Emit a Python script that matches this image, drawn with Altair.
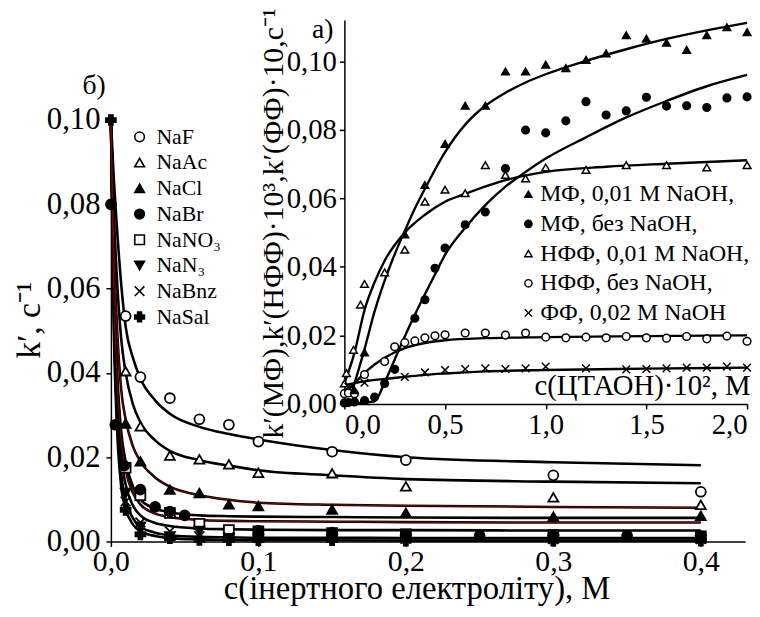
import altair as alt
import pandas as pd

FONT = "Liberation Serif"
CROSS = "M-1,-1L1,1M1,-1L-1,1"

# ---------------- panel б) : main plot ----------------
salts = ["NaF", "NaAc", "NaCl", "NaBr", "NaNO₃", "NaN₃", "NaBnz", "NaSal"]
salt_shapes = ["circle", "triangle-up", "triangle-up", "circle", "square", "triangle-down", CROSS, "cross"]
salt_fills = ["white", "white", "black", "black", "white", "black", "black", "black"]

naf_x = [0.01, 0.02, 0.04, 0.06, 0.08, 0.1, 0.15, 0.2, 0.3, 0.4]
naf_y = [0.0535, 0.039, 0.034, 0.029, 0.0277, 0.0237, 0.0213, 0.0193, 0.0157, 0.0118]
naac_x = [0.01, 0.02, 0.04, 0.06, 0.08, 0.1, 0.15, 0.2, 0.3, 0.4]
naac_y = [0.0404, 0.0273, 0.0204, 0.0195, 0.0183, 0.0163, 0.0162, 0.0131, 0.0105, 0.0087]
nacl_x = [0.01, 0.02, 0.04, 0.06, 0.08, 0.1, 0.15, 0.2, 0.3, 0.4]
nacl_y = [0.028, 0.019, 0.0123, 0.0115, 0.0088, 0.0084, 0.0076, 0.0068, 0.0059, 0.0061]
nabr_x = [0.0, 0.003, 0.009, 0.02, 0.03, 0.04, 0.05, 0.1, 0.15, 0.2, 0.25, 0.3, 0.35, 0.4]
nabr_y = [0.080, 0.0277, 0.018, 0.0123, 0.0082, 0.0071, 0.0062, 0.0025, 0.0021, 0.0016, 0.0014, 0.0014, 0.0014, 0.0012]
nano3_x = [0.01, 0.02, 0.04, 0.06, 0.08, 0.1, 0.15, 0.2, 0.3, 0.4]
nano3_y = [0.0175, 0.011, 0.0068, 0.0042, 0.0027, 0.0024, 0.0020, 0.0017, 0.0015, 0.0012]
nan3_x = [0.01, 0.02, 0.04, 0.06, 0.08, 0.1, 0.15, 0.2, 0.3, 0.4]
nan3_y = [0.0115, 0.0035, 0.0012, 0.0025, 0.0008, 0.0006, 0.0005, 0.0004, 0.0004, 0.0004]
nabnz_x = [0.01, 0.02, 0.04, 0.06, 0.08, 0.1, 0.2, 0.3, 0.4]
nabnz_y = [0.0095, 0.0045, 0.0024, 0.0012, 0.0010, 0.0009, 0.0007, 0.0006, 0.0006]
nasal_x = [0.0, 0.01, 0.02, 0.04, 0.06, 0.08, 0.1, 0.15, 0.2, 0.3, 0.4]
nasal_y = [0.100, 0.0075, 0.0017, 0.0008, 0.0004, 0.0003, 0.0003, 0.0003, 0.0002, 0.0002, 0.0002]

curve_x = [0, 0.002, 0.004, 0.007, 0.01, 0.015, 0.02, 0.03, 0.04, 0.06, 0.08, 0.1, 0.15, 0.2, 0.3, 0.4]
curve_naf = [0.100, 0.086, 0.075, 0.061, 0.051, 0.0435, 0.0387, 0.0335, 0.0303, 0.0272, 0.0255, 0.0242, 0.0217, 0.0200, 0.0188, 0.0181]
curve_naac = [0.100, 0.078, 0.063, 0.048, 0.040, 0.0325, 0.0283, 0.0240, 0.0215, 0.0193, 0.0180, 0.0169, 0.0157, 0.0148, 0.0142, 0.0138]
curve_nacl = [0.100, 0.070, 0.052, 0.036, 0.029, 0.0225, 0.0190, 0.0152, 0.0130, 0.0110, 0.0099, 0.0092, 0.0087, 0.0085, 0.0082, 0.0080]
curve_4 = [0.100, 0.062, 0.042, 0.026, 0.019, 0.0130, 0.0100, 0.0078, 0.0069, 0.0062, 0.0060, 0.0059, 0.0058, 0.0057, 0.0056, 0.0056]
curve_5 = [0.100, 0.060, 0.040, 0.024, 0.017, 0.0115, 0.0088, 0.0066, 0.0058, 0.0051, 0.0049, 0.0048, 0.0047, 0.0046, 0.0045, 0.0045]
curve_6 = [0.100, 0.057, 0.036, 0.020, 0.0135, 0.0085, 0.0062, 0.0044, 0.0037, 0.0031, 0.0029, 0.0028, 0.0027, 0.0027, 0.0026, 0.0026]
curve_7 = [0.100, 0.053, 0.031, 0.016, 0.0100, 0.0055, 0.0035, 0.0021, 0.0015, 0.0011, 0.0010, 0.0009, 0.0009, 0.0008, 0.0008, 0.0008]
curve_8 = [0.100, 0.050, 0.028, 0.013, 0.0078, 0.0040, 0.0024, 0.0013, 0.0008, 0.0005, 0.0004, 0.0003, 0.0003, 0.0002, 0.0002, 0.0002]
red_curves = ["nacl", "c5"]

# ---------------- panel а) : inset ----------------
series = ["МФ, 0,01 М NaOH,", "МФ, без NaOH,", "НФФ, 0,01 М NaOH,", "НФФ, без NaOH,", "ФФ, 0,02 М NaOH"]
series_shapes = ["triangle-up", "circle", "triangle-up", "circle", CROSS]
series_fills = ["black", "black", "white", "white", "black"]

mf1_x = [0.05, 0.1, 0.3, 0.4, 0.5, 0.6, 0.7, 0.8, 0.9, 1.0, 1.1, 1.2, 1.3, 1.4, 1.5, 1.6, 1.7, 1.8, 1.9, 2.0]
mf1_y = [0.004, 0.015, 0.0495, 0.0639, 0.0759, 0.087, 0.087, 0.097, 0.097, 0.099, 0.098, 0.1004, 0.1023, 0.1076, 0.1066, 0.1054, 0.1033, 0.1076, 0.1099, 0.1085]
mf2_x = [0.0, 0.02, 0.05, 0.1, 0.15, 0.2, 0.25, 0.35, 0.4, 0.45, 0.5, 0.6, 0.7, 0.8, 0.9, 1.0, 1.1, 1.2, 1.3, 1.4, 1.5, 1.6, 1.7, 1.8, 1.9, 2.0]
mf2_y = [0.0003, 0.0004, 0.0006, 0.001, 0.002, 0.0060, 0.0101, 0.025, 0.0304, 0.0396, 0.0455, 0.0523, 0.056, 0.0687, 0.0799, 0.0791, 0.0826, 0.0882, 0.0843, 0.0855, 0.0895, 0.0869, 0.087, 0.0865, 0.0893, 0.0896]
nff1_x = [0.0, 0.01, 0.045, 0.08, 0.1, 0.2, 0.3, 0.4, 0.5, 0.6, 0.7, 0.8, 0.9, 1.0, 1.2, 1.4, 1.6, 1.8, 2.0]
nff1_y = [0.006, 0.009, 0.0158, 0.029, 0.035, 0.0384, 0.045, 0.059, 0.0625, 0.0615, 0.0697, 0.0668, 0.0658, 0.069, 0.0683, 0.0697, 0.0697, 0.069, 0.0697]
nff2_x = [0.0, 0.02, 0.05, 0.1, 0.2, 0.25, 0.3, 0.35, 0.4, 0.45, 0.5, 0.6, 0.7, 0.8, 0.9, 1.0, 1.1, 1.2, 1.3, 1.4, 1.5, 1.6, 1.7, 1.8, 1.9, 2.0]
nff2_y = [0.003, 0.0032, 0.003, 0.0086, 0.0124, 0.0167, 0.0179, 0.0184, 0.0193, 0.0199, 0.0202, 0.0207, 0.0207, 0.0201, 0.0207, 0.0195, 0.0193, 0.0195, 0.0193, 0.0197, 0.0193, 0.0192, 0.0197, 0.0190, 0.0198, 0.0183]
ff_x = [0.02, 0.1, 0.3, 0.4, 0.5, 0.6, 0.7, 0.8, 0.9, 1.0, 1.2, 1.4, 1.5, 1.6, 1.7, 1.8, 1.9, 2.0]
ff_y = [0.005, 0.0062, 0.0079, 0.0092, 0.0099, 0.0102, 0.0104, 0.0102, 0.0104, 0.0109, 0.0104, 0.0101, 0.0102, 0.0104, 0.0106, 0.0106, 0.0109, 0.0106]

fit_mf1_x = [0.04, 0.1, 0.15, 0.2, 0.25, 0.3, 0.35, 0.4, 0.5, 0.6, 0.7, 0.8, 0.9, 1.0, 1.2, 1.4, 1.6, 1.8, 2.0]
fit_mf1_y = [0.004, 0.016, 0.027, 0.036, 0.0437, 0.0505, 0.057, 0.0628, 0.0735, 0.0815, 0.0870, 0.0908, 0.0938, 0.0962, 0.1001, 0.1035, 0.1065, 0.109, 0.1112]
fit_mf2_x = [0.0, 0.1, 0.15, 0.2, 0.25, 0.3, 0.35, 0.4, 0.45, 0.5, 0.6, 0.7, 0.8, 0.9, 1.0, 1.2, 1.4, 1.6, 1.8, 2.0]
fit_mf2_y = [0.0002, 0.0004, 0.0008, 0.0063, 0.013, 0.0197, 0.026, 0.032, 0.0378, 0.0435, 0.0514, 0.058, 0.0634, 0.0677, 0.0716, 0.0778, 0.0836, 0.0884, 0.0927, 0.096]
fit_nff1_x = [0.0, 0.05, 0.1, 0.15, 0.2, 0.3, 0.4, 0.5, 0.6, 0.8, 1.0, 1.3, 1.6, 2.0]
fit_nff1_y = [0.006, 0.0149, 0.0274, 0.0355, 0.0418, 0.050, 0.0552, 0.059, 0.0613, 0.0653, 0.0677, 0.0692, 0.0701, 0.0711]
fit_nff2_x = [0.0, 0.05, 0.1, 0.15, 0.2, 0.3, 0.4, 0.5, 0.7, 1.0, 1.5, 2.0]
fit_nff2_y = [0.003, 0.006, 0.009, 0.0115, 0.0135, 0.0163, 0.0178, 0.0186, 0.0192, 0.0195, 0.0198, 0.0200]
fit_ff_x = [0.0, 0.1, 0.2, 0.3, 0.4, 0.5, 0.7, 1.0, 1.5, 2.0]
fit_ff_y = [0.0055, 0.0066, 0.0073, 0.0079, 0.0085, 0.0089, 0.0095, 0.0099, 0.0103, 0.0106]

# ---------------- tables ----------------
def pts(name, xs, ys, fx, fy, key):
    return pd.DataFrame({fx: xs, fy: ys, key: name})

main_pts = pd.concat([
    pts("NaF", naf_x, naf_y, "c", "k", "salt"),
    pts("NaAc", naac_x, naac_y, "c", "k", "salt"),
    pts("NaNO₃", nano3_x, nano3_y, "c", "k", "salt"),
    pts("NaCl", nacl_x, nacl_y, "c", "k", "salt"),
    pts("NaBr", nabr_x, nabr_y, "c", "k", "salt"),
    pts("NaN₃", nan3_x, nan3_y, "c", "k", "salt"),
    pts("NaBnz", nabnz_x, nabnz_y, "c", "k", "salt"),
    pts("NaSal", nasal_x, nasal_y, "c", "k", "salt"),
], ignore_index=True)

curve_sets = [("naf", curve_naf), ("naac", curve_naac), ("nacl", curve_nacl), ("c4", curve_4),
              ("c5", curve_5), ("c6", curve_6), ("c7", curve_7), ("c8", curve_8)]
main_curves = pd.concat([pd.DataFrame({"c": curve_x, "k": ys, "curve": nm}) for nm, ys in curve_sets],
                        ignore_index=True)
red_df = main_curves[main_curves["curve"].isin(red_curves)]

inset_pts = pd.concat([
    pts(series[2], nff1_x, nff1_y, "cc", "kk", "series"),
    pts(series[3], nff2_x, nff2_y, "cc", "kk", "series"),
    pts(series[0], mf1_x, mf1_y, "cc", "kk", "series"),
    pts(series[1], mf2_x, mf2_y, "cc", "kk", "series"),
    pts(series[4], ff_x, ff_y, "cc", "kk", "series"),
], ignore_index=True)

inset_curves = pd.concat([
    pd.DataFrame({"cc": fit_mf1_x, "kk": fit_mf1_y, "fit": "mf1"}),
    pd.DataFrame({"cc": fit_mf2_x, "kk": fit_mf2_y, "fit": "mf2"}),
    pd.DataFrame({"cc": fit_nff1_x, "kk": fit_nff1_y, "fit": "nff1"}),
    pd.DataFrame({"cc": fit_nff2_x, "kk": fit_nff2_y, "fit": "nff2"}),
    pd.DataFrame({"cc": fit_ff_x, "kk": fit_ff_y, "fit": "ff"}),
], ignore_index=True)

panel_labels_main = pd.DataFrame({"c": [-0.0114], "k": [0.108], "t": ["б)"]})
panel_labels_inset = pd.DataFrame({"cc": [-0.108], "kk": [0.109], "t": ["а)"]})

# ---------------- layout numbers (px) ----------------
W, H = 641, 426

comma = "replace(format(datum.value, '{}'), '.', ',')"
AX = dict(labelFont=FONT, titleFont=FONT, labelColor="black", titleColor="black",
          domainColor="black", tickColor="black", domainWidth=1.5, tickWidth=1.5,
          titleFontWeight="normal", grid=False)

main_x = alt.X("c:Q", scale=alt.Scale(domain=[0, 0.43], nice=False, zero=False),
               axis=alt.Axis(values=[0, 0.1, 0.2, 0.3, 0.4], labelExpr=comma.format(".1f"),
                             labelFlush=False,
                             title="c(інертного електроліту), М", titleFontSize=33,
                             titleY=58, titleX=309, titleBaseline="alphabetic",
                             labelFontSize=30, tickSize=5, labelPadding=0, **AX))
main_y = alt.Y("k:Q", scale=alt.Scale(domain=[0, 0.1], nice=False),
               axis=alt.Axis(values=[0, 0.02, 0.04, 0.06, 0.08, 0.1], labelExpr=comma.format(".2f"),
                             labelFlush=False,
                             title="k′, с⁻¹", titleFontSize=34, titleX=-82, titleY=202,
                             titleBaseline="middle", labelFontSize=31, tickSize=5, labelPadding=6, **AX))

leg_main = alt.Legend(orient="none", legendX=18, legendY=6, title=None, labelFont=FONT,
                      labelFontSize=22, labelColor="black", symbolSize=95,
                      symbolStrokeWidth=1.6, rowPadding=4, labelOffset=6, padding=0, labelLimit=300)

lines_main = alt.Chart(main_curves).mark_line(color="black", strokeWidth=2.6, interpolate="monotone").encode(
    x=main_x, y=main_y, detail="curve:N")
lines_red = alt.Chart(red_df).mark_line(color="#8a0000", strokeWidth=1.0, interpolate="monotone").encode(
    x=main_x, y=main_y, detail="curve:N")
points_main = alt.Chart(main_pts).mark_point(size=100, strokeWidth=1.8, opacity=1,
                                             fillOpacity=1, strokeOpacity=1).encode(
    x=main_x, y=main_y,
    shape=alt.Shape("salt:N", scale=alt.Scale(domain=salts, range=salt_shapes), legend=leg_main),
    fill=alt.Fill("salt:N", scale=alt.Scale(domain=salts, range=salt_fills), legend=leg_main),
    stroke=alt.Stroke("salt:N", scale=alt.Scale(domain=salts, range=["black"] * len(salts)), legend=leg_main),
)
label_main = alt.Chart(panel_labels_main).mark_text(font=FONT, fontSize=28, color="black").encode(
    x=main_x, y=main_y, text="t:N")

main = alt.layer(lines_main, lines_red, points_main, label_main)

# inset
in_x = alt.X("cc:Q", scale=alt.Scale(domain=[0, 2.0], range=[236, 643], nice=False),
             axis=alt.Axis(orient="bottom", offset=-139, values=[0, 0.5, 1.0, 1.5, 2.0],
                           labelExpr=comma.format(".1f"), labelFlush=True, labelFontSize=29,
                           tickSize=5, labelPadding=2,
                           title="c(ЦТАОН)·10², М", titleFontSize=29, titleAlign="right",
                           titleAnchor="end", titleX=646, titleY=-10, titleBaseline="alphabetic", **AX))
in_y = alt.Y("kk:Q", scale=alt.Scale(domain=[0, 0.112], range=[287, -101], nice=False),
             axis=alt.Axis(orient="left", offset=-236, values=[0, 0.02, 0.04, 0.06, 0.08, 0.1],
                           labelExpr=comma.format(".2f"), labelFlush=False, labelFontSize=29, tickSize=5,
                           labelPadding=3,
                           title="k′(МФ),k′(НФФ)·10³,k′(ФФ)·10,с⁻¹", titleFontSize=30,
                           titleX=-72, titleY=104, titleBaseline="middle", **AX))

leg_in = alt.Legend(orient="none", legendX=410, legendY=63, title=None, labelFont=FONT,
                    labelFontSize=24, labelColor="black", symbolSize=55,
                    symbolStrokeWidth=1.4, rowPadding=6, labelOffset=0, padding=0, labelLimit=400)

lines_in = alt.Chart(inset_curves).mark_line(color="black", strokeWidth=2.4, interpolate="monotone").encode(
    x=in_x, y=in_y, detail="fit:N")
points_in = alt.Chart(inset_pts).mark_point(size=60, strokeWidth=1.5, opacity=1,
                                            fillOpacity=1, strokeOpacity=1).encode(
    x=in_x, y=in_y,
    shape=alt.Shape("series:N", scale=alt.Scale(domain=series, range=series_shapes), legend=leg_in),
    fill=alt.Fill("series:N", scale=alt.Scale(domain=series, range=series_fills), legend=leg_in),
    stroke=alt.Stroke("series:N", scale=alt.Scale(domain=series, range=["black"] * len(series)), legend=leg_in),
)
label_in = alt.Chart(panel_labels_inset).mark_text(font=FONT, fontSize=28, color="black").encode(
    x=in_x, y=in_y, text="t:N")

inset = alt.layer(lines_in, points_in, label_in)

chart = alt.layer(main, inset).resolve_scale(
    x="independent", y="independent", shape="independent", fill="independent", stroke="independent"
).resolve_axis(x="independent", y="independent").resolve_legend(
    shape="independent", fill="independent", stroke="independent"
).properties(
    width=W, height=H,
    autosize=alt.AutoSizeParams(type="none"),
    padding={"left": 104, "top": 110, "right": 7, "bottom": 65},
).configure_axis(
    labelFont=FONT, titleFont=FONT, grid=False,
).configure_legend(labelFont=FONT).configure_view(stroke=None).configure_text(font=FONT)

chart.save("out.html", embed_options={"renderer": "svg", "actions": False})
